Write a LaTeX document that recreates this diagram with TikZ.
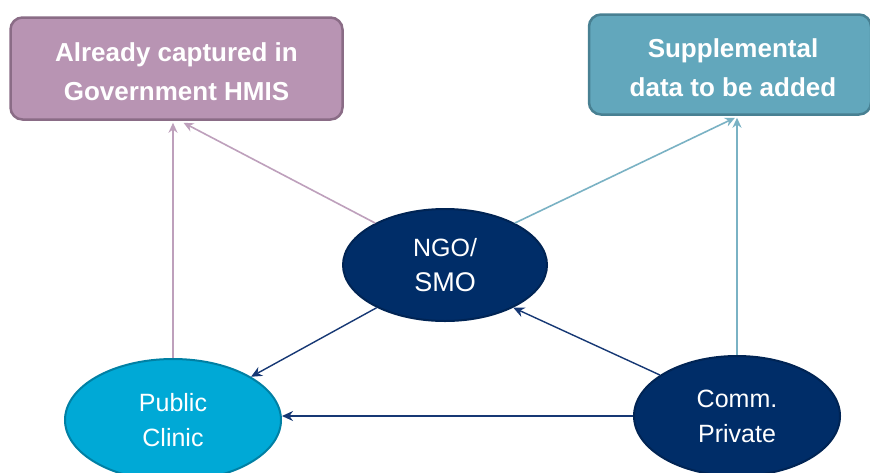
\documentclass[tikz,border=0pt]{standalone}
\usepackage{fontspec}
\setmainfont{Liberation Sans}
\usetikzlibrary{arrows.meta,shapes.geometric,calc}
\definecolor{hmisfill}{RGB}{184,148,179}
\definecolor{hmisdraw}{RGB}{138,108,134}
\definecolor{supfill}{RGB}{98,167,188}
\definecolor{supdraw}{RGB}{72,128,146}
\definecolor{navy}{RGB}{0,45,104}
\definecolor{navydraw}{RGB}{0,36,84}
\definecolor{clinicfill}{RGB}{0,169,214}
\definecolor{clinicdraw}{RGB}{0,128,164}
\definecolor{pinkline}{RGB}{190,160,188}
\definecolor{tealline}{RGB}{122,178,196}
\definecolor{bluearrow}{RGB}{22,56,116}
\tikzset{
  box/.style={rectangle, rounded corners=12pt, line width=2.5pt, inner sep=0pt,
    text=white, font=\bfseries\fontsize{26}{39}\selectfont, align=center},
  oval/.style={ellipse, line width=2pt, inner sep=0pt, text=white,
    font=\fontsize{25}{35}\selectfont, align=center},
  pinkarrow/.style={draw=pinkline, line width=1.6pt, -{Stealth[length=10pt,width=9pt]}},
  tealarrow/.style={draw=tealline, line width=1.6pt, -{Stealth[length=10pt,width=9pt]}},
  bluearr/.style={draw=bluearrow, line width=1.4pt, -{Stealth[length=11pt,width=10pt]}}
}
\begin{document}
\begin{tikzpicture}[x=1pt,y=-1pt]
\useasboundingbox (0,0) rectangle (870,472);
\fill[white] (0,0) rectangle (870,472);
\node[box, fill=hmisfill, draw=hmisdraw, minimum width=332pt, minimum height=102pt] (hmis) at (176.5,68.5) {};
\node[font=\bfseries\fontsize{26}{39}\selectfont, text=white, align=center] (hmistext) at (176.5,72) {Already captured in\\Government HMIS};
\node[box, fill=supfill, draw=supdraw, minimum width=282pt, minimum height=100pt] (sup) at (730,64.5) {};
\node[font=\bfseries\fontsize{26}{39}\selectfont, text=white, align=center] (suptext) at (733,67.5) {Supplemental\\data to be added};
\node[oval, fill=navy, draw=navydraw, minimum width=204pt, minimum height=112pt] (ngo) at (445,265) {NGO/\\{\fontsize{27}{35}\selectfont SMO}};
\node[oval, fill=clinicfill, draw=clinicdraw, minimum width=216pt, minimum height=122pt] (clinic) at (173,420) {Public\\Clinic};
\node[oval, fill=navy, draw=navydraw, minimum width=206pt, minimum height=120pt] (comm) at (737,416) {Comm.\\Private};
\coordinate (hmisA) at ($(hmis.south)+(7,2)$);
\coordinate (hmisB) at ($(hmis.south)+(-3.5,2)$);
\coordinate (supA) at ($(sup.south)+(5,2)$);
\coordinate (supB) at ($(sup.south)+(7,2)$);
\draw[pinkarrow] (ngo.149) -- (hmisA);
\draw[pinkarrow] (clinic.north) -- (hmisB);
\draw[tealarrow] (ngo.31) -- (supA);
\draw[tealarrow] (comm.north) -- (supB);
\draw[bluearr] (ngo.-148) -- (clinic.29);
\draw[bluearr] (comm.152) -- (ngo.-32);
\draw[bluearr] (comm.west) -- (comm.west -| clinic.east);
\end{tikzpicture}
\end{document}
